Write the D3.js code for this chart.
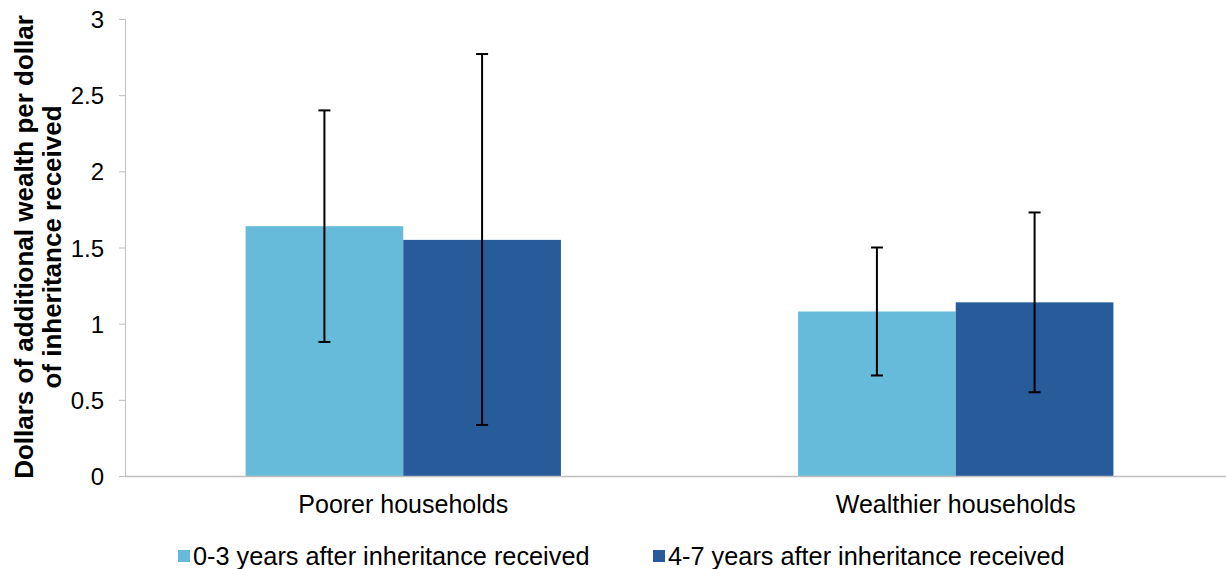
<!DOCTYPE html>
<html>
<head>
<meta charset="utf-8">
<script src="https://cdn.jsdelivr.net/npm/d3@7"></script>
<style>
  body { margin: 0; background: #fff; }
  text { font-family: "Liberation Sans", Arial, sans-serif; fill: #000; }
</style>
</head>
<body>
<div class="chart"></div>
<script>
// data
const categories = ["Poorer households", "Wealthier households"];
const seriesNames = ["0-3 years after inheritance received", "4-7 years after inheritance received"];
const seriesColors = ["#67BBDA", "#275B99"];
const values = [[1.64, 1.55], [1.08, 1.14]];
const errLow = [[0.88, 0.335], [0.66, 0.55]];
const errHigh = [[2.40, 2.77], [1.50, 1.73]];
const yTicks = [0, 0.5, 1, 1.5, 2, 2.5, 3];

const W = 1226, H = 569;
const margin = { top: 19, right: 0, bottom: 93, left: 125 };
const width = W - margin.left - margin.right;
const height = H - margin.top - margin.bottom;

const svg = d3.select(".chart").append("svg")
  .attr("width", W).attr("height", H)
  .append("g")
  .attr("transform", "translate(" + margin.left + "," + margin.top + ")");

const x0 = d3.scaleBand().domain(categories).range([2, width + 6]).paddingInner(0).paddingOuter(0);
const x1 = d3.scaleBand().domain([0, 1]).range([0, x0.bandwidth()]).paddingOuter(0.376 * 2).paddingInner(0);
const y = d3.scaleLinear().domain([0, 3]).range([height, 0]);

// y axis
const yAxis = svg.append("g")
  .call(d3.axisLeft(y).tickValues(yTicks).tickSize(6).tickPadding(15).tickFormat(d3.format("")));
yAxis.selectAll("path, line").attr("stroke", "#BFBFBF");
yAxis.selectAll("text").attr("font-size", "24px").attr("dy", "0.36em")
  .style("font-family", "Liberation Sans, Arial, sans-serif");
yAxis.select(".domain").attr("d", "M-6,0.5H0.5V" + height);

// bars
const groups = svg.selectAll(".grp").data(categories).join("g")
  .attr("transform", d => "translate(" + x0(d) + ",0)");

groups.each(function (cat, ci) {
  const g = d3.select(this);
  values[ci].forEach((v, si) => {
    g.append("rect")
      .attr("x", x1(si))
      .attr("y", y(v))
      .attr("width", x1.bandwidth())
      .attr("height", height - y(v))
      .attr("fill", seriesColors[si]);
  });
  // error bars
  values[ci].forEach((v, si) => {
    const cx = x1(si) + x1.bandwidth() / 2;
    g.append("line").attr("x1", cx).attr("x2", cx)
      .attr("y1", y(errHigh[ci][si])).attr("y2", y(errLow[ci][si]))
      .attr("stroke", "#000").attr("stroke-width", 2);
    [errHigh[ci][si], errLow[ci][si]].forEach(e => {
      g.append("line").attr("x1", cx - 6).attr("x2", cx + 6)
        .attr("y1", y(e)).attr("y2", y(e))
        .attr("stroke", "#000").attr("stroke-width", 2);
    });
  });
});

// baseline
svg.append("line").attr("x1", 0).attr("x2", width).attr("y1", height + 0.5).attr("y2", height + 0.5)
  .attr("stroke", "#BFBFBF").attr("stroke-width", 1.5);

// category labels
svg.selectAll(".cat").data(categories).join("text")
  .attr("x", d => x0(d) + x0.bandwidth() / 2)
  .attr("y", 513 - margin.top)
  .attr("text-anchor", "middle")
  .attr("font-size", "25px")
  .text(d => d);

// y title
const yt = svg.append("text")
  .attr("transform", "translate(" + (33 - margin.left) + "," + (247 - margin.top) + ") rotate(-90)")
  .attr("text-anchor", "middle")
  .attr("font-size", "26px")
  .attr("font-weight", "bold");
yt.append("tspan").attr("x", 0).attr("dy", 0).text("Dollars of additional wealth per dollar");
yt.append("tspan").attr("x", 0).attr("dy", 28).text("of inheritance received");

// legend
const legendX = [178 - margin.left, 653 - margin.left];
const legend = svg.selectAll(".lg").data(seriesNames).join("g")
  .attr("transform", (d, i) => "translate(" + legendX[i] + "," + (556 - margin.top) + ")");
legend.append("rect").attr("x", 0).attr("y", -6).attr("width", 12).attr("height", 12)
  .attr("fill", (d, i) => seriesColors[i]);
legend.append("text").attr("x", 15).attr("y", 9).attr("font-size", "25.3px").text(d => d);
</script>
</body>
</html>
